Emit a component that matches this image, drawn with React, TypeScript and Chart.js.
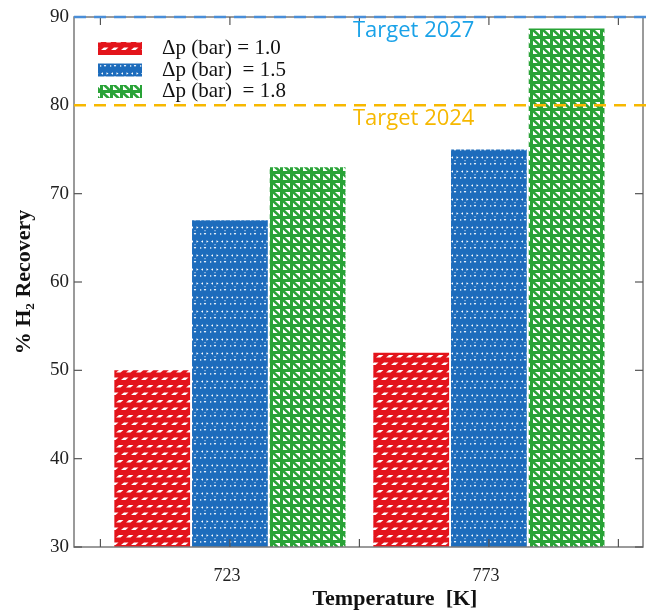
import React, { useEffect, useRef } from 'react';
import { Chart, registerables } from 'chart.js';

Chart.register(...registerables);

const temperatures = ['723', '773'];
const dp10 = [50, 52];
const dp15 = [67, 75];
const dp18 = [73, 88.7];
const seriesLabels = ['Δp (bar) = 1.0', 'Δp (bar)  = 1.5', 'Δp (bar)  = 1.8'];
const yTickValues = [30, 40, 50, 60, 70, 80, 90];
const xLabelTickValues = [0, 1];
const xFrameTickValues = [-0.5, 0, 0.5, 1, 1.5];
const targetValues = [90, 80];
const targetLabels = ['Target 2027', 'Target 2024'];

const RED = '#e3141b';
const BLUE = '#1d6cbc';
const GREEN = '#29a337';

function tile(w: number, h: number, draw: (c: CanvasRenderingContext2D) => void) {
  const c = document.createElement('canvas');
  c.width = w;
  c.height = h;
  const g = c.getContext('2d')!;
  draw(g);
  return c;
}

function makePatterns(ctx: CanvasRenderingContext2D) {
  const red = tile(10, 15, (g) => {
    g.fillStyle = RED;
    g.fillRect(0, 0, 10, 15);
    g.fillStyle = '#fff';
    const para = (ox: number, oy: number) => {
      g.beginPath();
      g.moveTo(ox + 1, oy + 5);
      g.lineTo(ox + 4, oy + 2.5);
      g.lineTo(ox + 8.5, oy + 2.5);
      g.lineTo(ox + 5.5, oy + 5);
      g.closePath();
      g.fill();
    };
    para(0, 0);
    para(5, 7.5);
    para(-5, 7.5);
  });
  const blue = tile(10, 14, (g) => {
    g.fillStyle = BLUE;
    g.fillRect(0, 0, 10, 14);
    g.fillStyle = '#fff';
    g.beginPath();
    g.moveTo(1, 3.5); g.lineTo(3, 2.3); g.lineTo(3, 4.7); g.closePath(); g.fill();
    g.beginPath();
    g.moveTo(6.5, 2.3); g.lineTo(8.5, 3.5); g.lineTo(6.5, 4.7); g.closePath(); g.fill();
    g.beginPath();
    g.moveTo(3.7, 9); g.lineTo(6.3, 9); g.lineTo(5, 11); g.closePath(); g.fill();
    g.fillRect(0, 9.3, 1.3, 1.3);
    g.fillRect(4.5, 6.2, 1, 1);
  });
  const green = tile(10, 9, (g) => {
    g.fillStyle = '#fff';
    g.fillRect(0, 0, 10, 9);
    g.fillStyle = GREEN;
    g.fillRect(0, 0, 10, 3);
    g.fillRect(0, 0, 3, 9);
    g.strokeStyle = GREEN;
    g.lineWidth = 2.6;
    g.beginPath();
    g.moveTo(1, 1);
    g.lineTo(10, 9.5);
    g.stroke();
  });
  return [
    ctx.createPattern(red, 'repeat')!,
    ctx.createPattern(blue, 'repeat')!,
    ctx.createPattern(green, 'repeat')!,
  ];
}

export default function App() {
  const ref = useRef<HTMLCanvasElement>(null);

  useEffect(() => {
    const canvas = ref.current!;
    const ctx0 = canvas.getContext('2d')!;
    const patterns = makePatterns(ctx0);
    const series = [dp10, dp15, dp18];
    const datasets = series.map((vals, i) => ({
      label: seriesLabels[i],
      data: vals.map((v, j) => ({ x: j, y: v })),
      backgroundColor: patterns[i] as any,
      borderWidth: 0,
      categoryPercentage: 0.9,
      barPercentage: 0.975,
    }));

    const overlay = {
      id: 'overlay',
      afterDatasetsDraw(chart: any) {
        const { ctx, chartArea: a, scales } = chart;
        const x = scales.x;
        const y = scales.y;
        const line = (x1: number, y1: number, x2: number, y2: number) => {
          ctx.beginPath();
          ctx.moveTo(x1, y1);
          ctx.lineTo(x2, y2);
          ctx.stroke();
        };
        ctx.save();
        // frame
        ctx.strokeStyle = '#7a7a7a';
        ctx.lineWidth = 1.5;
        ctx.strokeRect(a.left, a.top, a.right - a.left, a.bottom - a.top);
        ctx.lineWidth = 1.2;
        ctx.strokeStyle = '#555';
        yTickValues.forEach((v) => {
          const py = y.getPixelForValue(v);
          line(a.left, py, a.left + 8, py);
          line(a.right - 8, py, a.right, py);
        });
        xFrameTickValues.forEach((v) => {
          const px = x.getPixelForValue(v);
          line(px, a.bottom, px, a.bottom - 8);
          line(px, a.top, px, a.top + 8);
        });

        // targets
        const lineColors = ['#4a8ed8', '#f7b800'];
        const textColors = ['#1aa2e8', '#f6b800'];
        const textDy = [14, 13];
        targetValues.forEach((v, i) => {
          const py = y.getPixelForValue(v);
          ctx.setLineDash([12, 8]);
          ctx.lineWidth = 2.5;
          ctx.strokeStyle = lineColors[i];
          line(a.left, py, chart.width, py);
          ctx.setLineDash([]);
          ctx.font = '22px "Open Sans"';
          ctx.fillStyle = textColors[i];
          ctx.textAlign = 'center';
          ctx.textBaseline = 'middle';
          ctx.fillText(targetLabels[i], a.left + 0.597 * (a.right - a.left), py + textDy[i]);
        });

        // legend
        ctx.font = '21px "Liberation Serif"';
        ctx.textAlign = 'left';
        ctx.textBaseline = 'middle';
        seriesLabels.forEach((lab, i) => {
          const yc = a.top + 31.5 + i * 21.5;
          ctx.fillStyle = patterns[i];
          ctx.fillRect(a.left + 24, yc - 6.5, 44, 13);
          ctx.fillStyle = '#111';
          ctx.fillText(lab, a.left + 88, yc);
        });

        // x title
        ctx.font = 'bold 22px "Liberation Serif"';
        ctx.textAlign = 'center';
        ctx.textBaseline = 'middle';
        ctx.fillStyle = '#111';
        ctx.fillText('Temperature  [K]', a.left + 0.564 * (a.right - a.left), 599);
        ctx.restore();
      },
    };

    const chart = new Chart(canvas, {
      type: 'bar',
      data: { datasets: datasets as any },
      options: {
        animation: false,
        responsive: false,
        devicePixelRatio: 1,
        layout: { padding: { top: 17, right: 3, left: 0, bottom: 0 } },
        plugins: { legend: { display: false }, tooltip: { enabled: false } },
        scales: {
          x: {
            type: 'linear',
            min: -0.602,
            max: 1.595,
            offset: false,
            grid: { display: false, drawTicks: false },
            border: { display: false },
            afterBuildTicks: (s: any) => {
              s.ticks = xLabelTickValues.map((v) => ({ value: v }));
            },
            afterFit: (s: any) => {
              s.height = 64;
            },
            ticks: {
              autoSkip: false,
              maxRotation: 0,
              padding: 18,
              labelOffset: -3,
              font: { family: 'Liberation Serif', size: 18 },
              color: '#222',
              callback: (v: any) => temperatures[Math.round(v)] ?? '',
            },
          },
          y: {
            min: 30,
            max: 90,
            grid: { display: false, drawTicks: false },
            border: { display: false },
            afterBuildTicks: (s: any) => {
              s.ticks = yTickValues.map((v) => ({ value: v }));
            },
            afterFit: (s: any) => {
              s.width = 74;
            },
            ticks: {
              padding: 5,
              font: { family: 'Liberation Serif', size: 19 },
              color: '#222',
            },
            title: {
              display: true,
              text: '% H₂ Recovery',
              font: { family: 'Liberation Serif', size: 22, weight: 'bold' },
              color: '#111',
              padding: { top: 11, bottom: 0 },
            },
          },
        },
      } as any,
      plugins: [overlay],
    });
    return () => chart.destroy();
  }, []);

  return (
    <div style={{ position: 'absolute', left: 0, top: 0, width: 646, height: 611 }}>
      <canvas ref={ref} width={646} height={611} style={{ display: 'block', width: 646, height: 611 }} />
    </div>
  );
}
